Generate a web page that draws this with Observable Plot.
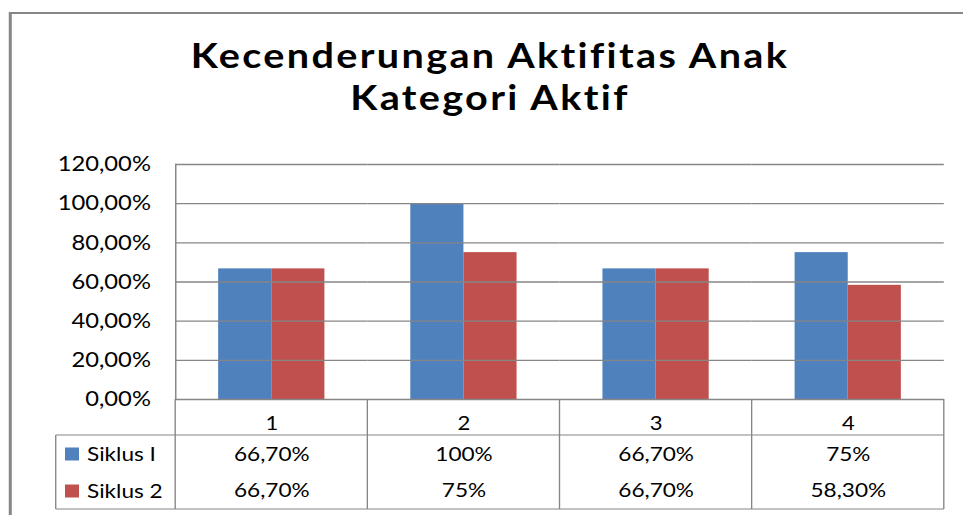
<!DOCTYPE html>
<html>
<head>
<meta charset="utf-8">
<script src="https://cdn.jsdelivr.net/npm/d3@7"></script>
<script src="https://cdn.jsdelivr.net/npm/@observablehq/plot@0.6"></script>
<style>
  html, body { margin: 0; padding: 0; background: #fff; }
  #wrap { position: relative; width: 852px; height: 515px; transform: scaleX(1.1303); transform-origin: 0 0; overflow: visible; }
  #wrap svg { position: absolute; left: 0; top: 0; overflow: visible; }
</style>
</head>
<body>
<div id="wrap"></div>
<script>
// ---- data ----
const categories = ["1", "2", "3", "4"];
const seriesNames = ["Siklus I", "Siklus 2"];
const siklus1 = [0.667, 1.00, 0.667, 0.75];
const siklus2 = [0.667, 0.75, 0.667, 0.583];
const siklus1Labels = ["66,70%", "100%", "66,70%", "75%"];
const siklus2Labels = ["66,70%", "75%", "66,70%", "58,30%"];
const yTicks = [0, 0.2, 0.4, 0.6, 0.8, 1.0, 1.2];
const yTickLabels = ["0,00%", "20,00%", "40,00%", "60,00%", "80,00%", "100,00%", "120,00%"];
const colors = ["#4F81BD", "#C0504D"];
const titleLines = ["Kecenderungan Aktifitas Anak", "Kategori Aktif"];

// ---- table built from the arrays ----
const rows = categories.flatMap((c, i) => [
  {cat: c, series: seriesNames[0], value: siklus1[i], label: siklus1Labels[i]},
  {cat: c, series: seriesNames[1], value: siklus2[i], label: siklus2Labels[i]}
]);

const W = 852, H = 515;
const gray = "#868686";

const chart = Plot.plot({
  width: W,
  height: H,
  marginLeft: 153,
  marginRight: 16,
  marginTop: 164,
  marginBottom: 116,
  style: {fontFamily: "Lato", fontSize: "21px", color: "#000", background: "transparent"},
  fx: {domain: categories, padding: 0, axis: null},
  x: {domain: seriesNames, paddingInner: 0, paddingOuter: 0.786, axis: null},
  y: {domain: [0, 1.2], axis: null},
  color: {domain: seriesNames, range: colors},
  marks: [
    Plot.barY(rows, {fx: "cat", x: "series", y: "value", fill: "series"}),
    Plot.ruleY(yTicks, {stroke: gray, strokeWidth: 1.3}),
    Plot.frame({anchor: "left", facetAnchor: "left", stroke: gray, strokeWidth: 1.3}),
    Plot.axisY({ticks: yTicks, tickFormat: (d, i) => yTickLabels[yTicks.indexOf(d)], tickSize: 0, tickPadding: 22, fontSize: 21, label: null, facetAnchor: "left"}),
    Plot.axisFx({anchor: "bottom", tickSize: 0, tickPadding: 17, fontSize: 19.5, label: null}),
    Plot.text(rows.filter(d => d.series === seriesNames[0]), {fx: "cat", text: "label", frameAnchor: "bottom", lineAnchor: "middle", dy: 55, fontSize: 20}),
    Plot.text(rows.filter(d => d.series === seriesNames[1]), {fx: "cat", text: "label", frameAnchor: "bottom", lineAnchor: "middle", dy: 91.5, fontSize: 20})
  ]
});
document.getElementById("wrap").appendChild(chart);

// ---- decorations: outer border, title, data table lines, legend ----
const svg = d3.select(chart);
const fx = chart.scale("fx");
const bw = fx.bandwidth;
const colStarts = categories.map(c => fx.apply(c));
const xRight = colStarts[colStarts.length - 1] + bw;
const yTop = 399, yHead = 435, yBot = 509, xLegend = 49.3;

const g = svg.append("g").attr("stroke", gray).attr("stroke-width", 1.2);
colStarts.concat([xRight]).forEach(x => {
  g.append("line").attr("x1", x).attr("x2", x).attr("y1", yTop).attr("y2", yBot);
});
g.append("line").attr("x1", xLegend).attr("x2", xRight).attr("y1", yHead).attr("y2", yHead);
g.append("line").attr("x1", xLegend).attr("x2", xRight).attr("y1", yBot).attr("y2", yBot);
g.append("line").attr("x1", xLegend).attr("x2", xLegend).attr("y1", yHead).attr("y2", yBot);

// outer chart border (top + left)
const ob = svg.append("g").attr("stroke", "#878787");
ob.append("line").attr("x1", 8).attr("x2", W + 10).attr("y1", 13).attr("y2", 13).attr("stroke-width", 2);
ob.append("line").attr("x1", 9.1).attr("x2", 9.1).attr("y1", 12).attr("y2", H + 5).attr("stroke-width", 2.7);

// legend
seriesNames.forEach((s, i) => {
  const cy = [454, 491][i];
  svg.append("rect").attr("x", 57.5).attr("y", cy - 6.5).attr("width", 12.4).attr("height", 13).attr("fill", colors[i]);
  svg.append("text").attr("x", 77).attr("y", cy).attr("dy", "0.35em").attr("text-anchor", "start")
    .attr("font-family", "Lato").attr("font-size", 20).attr("fill", "#000").text(s);
});

// title
titleLines.forEach((t, i) => {
  svg.append("text").attr("x", 433.5).attr("y", [68.5, 110.5][i])
    .attr("text-anchor", "middle").attr("font-family", "Lato").attr("font-weight", "bold")
    .attr("font-size", 35).attr("letter-spacing", "2.1px").attr("fill", "#000").text(t);
});
</script>
</body>
</html>
